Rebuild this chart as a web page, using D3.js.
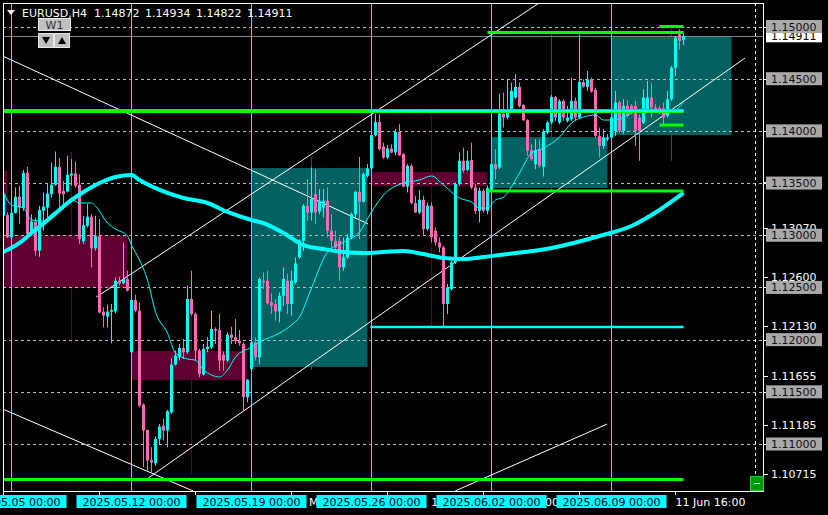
<!DOCTYPE html>
<html><head><meta charset="utf-8">
<script src="https://cdn.jsdelivr.net/npm/d3@7"></script>
<style>html,body{margin:0;padding:0;background:#000;overflow:hidden}svg{display:block}</style>
</head><body>
<svg id="chart" width="828" height="515"></svg>
<script>
// ---------------- DATA ----------------
const symbol = "EURUSD,H4";
const firstBar = -2; // bar index of first candle (bar 0 = 2025.05.05 00:00, H4)
const opens = [1.13187,1.13196,1.12979,1.13215,1.13368,1.13260,1.13598,1.13011,1.13132,1.12852,1.13234,1.13266,1.13394,1.13483,1.13655,1.13426,1.13419,1.13573,1.13592,1.13483,1.12941,1.13091,1.13177,1.12874,1.12992,1.12268,1.12220,1.12268,1.12271,1.12564,1.12539,1.12580,
1.11879,1.12379,1.12277,1.11378,1.11135,1.10848,1.10816,1.11049,1.11177,1.11129,1.11304,1.11761,1.11831,1.11920,1.11879,1.12389,1.12245,1.11895,1.11665,1.11911,1.11926,1.12102,1.12092,1.11856,1.11799,1.12048,1.12022,1.11990,1.11958,1.11448,
1.11719,1.11974,1.11831,1.12564,1.12564,1.12357,1.12341,1.12271,1.12421,1.12564,1.12341,1.12549,1.12788,1.12947,1.13282,1.13218,1.13394,1.13228,1.13266,1.13330,1.13043,1.12947,1.12947,1.12692,1.12788,1.12979,1.13202,1.13416,1.13321,1.13569,
1.13640,1.13959,1.14086,1.13850,1.13745,1.13831,1.13793,1.13990,1.13777,1.13467,1.13665,1.13308,1.13218,1.13340,1.13059,1.13282,1.13043,1.12931,1.12883,1.12341,1.12485,1.12740,1.13490,1.13713,1.13624,1.13719,1.13458,1.13234,1.13426,1.13234,
1.13426,1.13681,1.13649,1.14166,1.14128,1.14191,1.14319,1.14421,1.14249,1.14102,1.13815,1.13681,1.13825,1.13655,1.13984,1.14080,1.14325,1.14080,1.14287,1.14096,1.14112,1.14287,1.14128,1.14469,1.14421,1.14494,1.14392,1.13952,1.13856,1.13920,
1.13936,1.14000,1.14271,1.14000,1.14239,1.14239,1.14239,1.14128,1.14080,1.14207,1.14319,1.14223,1.14217,1.14217,1.14144,1.14303,1.14606,1.14925,1.14872];
const highs = [1.13802,1.13218,1.13234,1.13458,1.13474,1.13624,1.13655,1.13202,1.13171,1.13282,1.13410,1.13490,1.13697,1.13802,1.13738,1.13521,1.13761,1.13729,1.13707,1.13585,1.13187,1.13298,1.13202,1.13187,1.13155,1.12309,1.12335,1.12341,1.12596,1.12603,1.12931,1.12660,
1.12389,1.12431,1.12357,1.11391,1.11135,1.10969,1.11072,1.11193,1.11241,1.11327,1.11824,1.11895,1.11958,1.12006,1.12517,1.12660,1.12261,1.11911,1.11958,1.12022,1.12277,1.12118,1.12245,1.11888,1.12070,1.12124,1.12198,1.12092,1.11974,1.11623,
1.11990,1.12022,1.12596,1.12644,1.12660,1.12443,1.12389,1.12453,1.12692,1.12628,1.12660,1.12788,1.12963,1.13298,1.13537,1.13649,1.13633,1.13442,1.13442,1.13458,1.13202,1.13043,1.12979,1.12979,1.13011,1.13218,1.13426,1.13751,1.13601,1.13681,
1.13968,1.14160,1.14160,1.13888,1.13863,1.13872,1.14016,1.14064,1.13786,1.13681,1.13681,1.13378,1.13435,1.13378,1.13314,1.13314,1.13075,1.12979,1.12899,1.12533,1.12756,1.13506,1.13793,1.13840,1.13809,1.13888,1.13490,1.13458,1.13442,1.13474,
1.13697,1.13825,1.14357,1.14367,1.14494,1.14463,1.14542,1.14463,1.14255,1.14112,1.13872,1.13920,1.13920,1.14016,1.14096,1.14345,1.14335,1.14303,1.14303,1.14239,1.14510,1.14319,1.14925,1.14494,1.14574,1.14510,1.14415,1.14032,1.14016,1.13968,
1.14144,1.14383,1.14287,1.14303,1.14297,1.14255,1.14287,1.14160,1.14399,1.14479,1.14463,1.14255,1.14239,1.14271,1.14383,1.14622,1.14909,1.14973,1.14934];
const lows = [1.13139,1.12973,1.12963,1.13209,1.13107,1.13234,1.13005,1.12995,1.12804,1.12794,1.13043,1.13171,1.13362,1.13474,1.13250,1.13250,1.13410,1.13474,1.13458,1.12915,1.12915,1.13075,1.12692,1.12852,1.12252,1.12118,1.12118,1.11968,1.12252,1.12517,1.12533,1.12462,
1.11869,1.12261,1.11352,1.10778,1.10746,1.10714,1.10794,1.11001,1.11033,1.10969,1.11288,1.11751,1.11799,1.11815,1.11863,1.12230,1.11799,1.11639,1.11655,1.11879,1.11911,1.11958,1.11703,1.11703,1.11783,1.11958,1.11958,1.11942,1.11320,1.11400,
1.11710,1.11799,1.11767,1.12485,1.12335,1.12245,1.12182,1.12166,1.12325,1.12245,1.12230,1.12533,1.12772,1.12852,1.13139,1.13139,1.13107,1.13202,1.13171,1.12979,1.12883,1.12852,1.12564,1.12660,1.12772,1.12963,1.13171,1.12963,1.13314,1.13553,
1.13624,1.13946,1.13809,1.13729,1.13729,1.13786,1.13767,1.13761,1.13458,1.13410,1.13298,1.13212,1.13202,1.12995,1.13043,1.12931,1.12899,1.12836,1.12130,1.12245,1.12469,1.12724,1.13474,1.13601,1.13611,1.13442,1.13202,1.13123,1.13218,1.13202,
1.13410,1.13537,1.13633,1.14032,1.14112,1.14175,1.14303,1.14223,1.14096,1.13761,1.13713,1.13633,1.13649,1.13563,1.13968,1.14064,1.14096,1.14064,1.14096,1.14080,1.14096,1.14096,1.14112,1.14415,1.14383,1.14367,1.13936,1.13745,1.13825,1.13904,
1.13920,1.13952,1.13984,1.13968,1.14128,1.14160,1.13856,1.13713,1.14064,1.14191,1.14128,1.14175,1.14160,1.14064,1.14128,1.14287,1.14526,1.14782,1.14822];
const closes = [1.13394,1.12979,1.13215,1.13368,1.13266,1.13598,1.13011,1.13132,1.12852,1.13241,1.13273,1.13400,1.13483,1.13655,1.13400,1.13394,1.13579,1.13592,1.13474,1.12963,1.13097,1.13177,1.12874,1.12992,1.12261,1.12230,1.12268,1.12284,1.12564,1.12539,1.12580,1.12469,
1.12379,1.12277,1.11368,1.11129,1.10842,1.10823,1.11049,1.11167,1.11129,1.11314,1.11761,1.11847,1.11920,1.11879,1.12389,1.12245,1.11895,1.11671,1.11911,1.11933,1.12102,1.12086,1.11799,1.11799,1.12048,1.12016,1.11984,1.11965,1.11448,1.11614,
1.11974,1.11831,1.12580,1.12549,1.12348,1.12325,1.12271,1.12421,1.12580,1.12341,1.12564,1.12730,1.12947,1.13282,1.13218,1.13346,1.13218,1.13330,1.13330,1.13043,1.12947,1.12883,1.12692,1.12788,1.12979,1.13202,1.13416,1.13321,1.13585,1.13640,
1.13959,1.14086,1.13825,1.13745,1.13831,1.13793,1.13990,1.13767,1.13467,1.13665,1.13308,1.13218,1.13340,1.13059,1.13282,1.12979,1.12931,1.12883,1.12341,1.12501,1.12740,1.13490,1.13713,1.13617,1.13713,1.13458,1.13234,1.13426,1.13234,1.13451,
1.13681,1.13633,1.14166,1.14128,1.14191,1.14383,1.14421,1.14239,1.14102,1.13809,1.13729,1.13815,1.13665,1.13994,1.14080,1.14325,1.14128,1.14287,1.14128,1.14128,1.14287,1.14128,1.14469,1.14424,1.14494,1.14376,1.13952,1.13856,1.13936,1.13936,
1.14128,1.14271,1.14000,1.14239,1.14144,1.14175,1.14000,1.14000,1.14319,1.14319,1.14223,1.14198,1.14175,1.14128,1.14303,1.14606,1.14893,1.14861,1.14911];

// moving averages: [bar, price]
const slowMA = [[-2,1.12839],[2,1.12926],[5,1.13021],[10,1.13175],[14,1.13309],[18,1.13414],[22,1.13501],[26,1.13558],[30,1.13577],[32,1.13529],[39,1.13405],[43,1.13357],[49,1.13309],[54,1.13223],[60,1.13146],[63,1.13117],[68,1.13021],[73,1.12906],[78,1.12868],[83,1.12839],[88,1.12830],[93,1.12839],[98,1.12849],[103,1.12820],[108,1.12782],[113,1.12772],[118,1.12791],[122,1.12811],[135,1.12878],[147,1.12993],[155,1.13089],[162,1.13242],[168,1.13405]];
const fastMA = [[-2,1.13414],[0,1.13290],[3,1.13261],[5,1.13146],[8,1.13136],[10,1.13204],[13,1.13261],[15,1.13338],[17,1.13309],[20,1.13309],[21,1.13280],[24,1.13117],[26,1.13060],[29,1.12993],[30,1.12906],[32,1.12763],[34,1.12571],[36,1.12264],[39,1.12063],[41,1.11871],[44,1.11814],[46,1.11804],[48,1.11709],[50,1.11661],[52,1.11642],[54,1.11709],[56,1.11833],[60,1.11929],[62,1.11977],[67,1.12063],[70,1.12140],[72,1.12217],[75,1.12494],[79,1.12839],[83,1.12935],[87,1.13031],[90,1.13223],[93,1.13386],[98,1.13501],[102,1.13529],[105,1.13568],[108,1.13481],[112,1.13357],[115,1.13318],[117,1.13261],[119,1.13261],[121,1.13338],[123,1.13366],[127,1.13596],[130,1.13788],[133,1.13836],[137,1.13941],[140,1.14075],[143,1.14133],[146,1.14152],[148,1.14104],[151,1.14104],[153,1.14133],[158,1.14200],[162,1.14200],[165,1.14181],[168,1.14277]];

// zones: [fromBar, toBar, topPrice, bottomPrice]
const tealZones = [[60,89,1.13644,1.11738],[120,149,1.13941,1.13453],[150,180,1.14909,1.13960]];
const maroonZones = [[-5,-1,1.13616,1.13213],[-2.05,29,1.13002,1.12495],[30,58.8,1.11891,1.11613],[89.9,119,1.13606,1.13472]];

// horizontal levels: [fromBar, toBar, price]
const greenLevels = [[-2.2,168,1.14190],[119,168,1.14943],[162,168,1.15000],[162,168,1.14056],[119,168,1.13424],[-2.2,168,1.10660]];
const cyanLevels = [[89.7,168,1.14190],[89.7,168,1.12120]];

// trend lines: [bar1, price1, bar2, price2]
const trendLines = [[-2.2,1.14717,89.2,1.13108],[21.2,1.12408,131.9,1.15225],[34.2,1.10674,183.4,1.14698],[-2.2,1.11335,45.4,1.10550],[110.9,1.10550,148.9,1.11191]];

// weeks
const weekStartBars = [0,30,60,90,120,150];
const weekLabels = ["2025.05.05 00:00","2025.05.12 00:00","2025.05.19 00:00","2025.05.26 00:00","2025.06.02 00:00","2025.06.09 00:00"];
const weekMidBars = [15,45,75,105,135,165];
const weekMidKinds = ["maroon","maroon","teal","maroon","teal","teal"];

// time axis ticks (mostly hidden behind the week labels)
const tickBars = [22,46,70,94,118,142,166];
const tickLabels = ["8 May 16:00","14 May 16:00","20 May 16:00","26 May 16:00","30 May 16:00","5 Jun 16:00","11 Jun 16:00"];
const tickMarkBars = [-2,22,46,70,94,118,142,166];

// price axis
const gridLevels = [1.15,1.145,1.14,1.135,1.13,1.125,1.12,1.115,1.11];
const extraLevels = [1.1351,1.1307,1.126,1.1213,1.11655,1.11185,1.10715];

// ---------------- DRAW ----------------
const C = {bull:"#00ffff", bear:"#ff69b4", teal:"#016060", maroon:"#5f0031", green:"#00ff00", cyan:"#00ffff", grid:"#b8b8b8", white:"#ffffff"};
const FONT = "DejaVu Sans, Verdana, sans-serif";
const L = 3, R = 764, T = 3, B = 491;
const LABEL_W = 110;

const x = d3.scaleLinear().domain([0,1]).range([11.5,15.5]);
const y = d3.scaleLinear().domain([1.15,1.11]).range([26.5,444]);

const svg = d3.select("#chart");
svg.append("rect").attr("width",828).attr("height",515).attr("fill","#000");
svg.append("defs").append("clipPath").attr("id","plot").append("rect")
  .attr("x",L).attr("y",T).attr("width",R-L).attr("height",B-T);
const g = svg.append("g").attr("clip-path","url(#plot)");

const candles = opens.map((o,k)=>({bar:firstBar+k,o,h:highs[k],l:lows[k],c:closes[k]}));

// week middle lines (weekly high-low), behind zones
weekMidBars.forEach((mb,w)=>{
  const wk = candles.filter(d=>d.bar>=weekStartBars[w] && d.bar<weekStartBars[w]+30);
  const hi = d3.max(wk,d=>d.h), lo = d3.min(wk,d=>d.l);
  g.append("line").attr("x1",x(mb)).attr("x2",x(mb)).attr("y1",y(hi)).attr("y2",y(lo))
    .attr("stroke",C[weekMidKinds[w]]).attr("stroke-width",1);
});

// zones
[[tealZones,C.teal],[maroonZones,C.maroon]].forEach(([zs,col])=>{
  g.selectAll(null).data(zs).enter().append("rect")
    .attr("x",d=>x(d[0])).attr("width",d=>x(d[1])-x(d[0]))
    .attr("y",d=>y(d[2])).attr("height",d=>y(d[3])-y(d[2]))
    .attr("fill",col);
});

// dashed price grid
g.selectAll(null).data(gridLevels).enter().append("line")
  .attr("x1",L).attr("x2",R).attr("y1",d=>Math.round(y(d))+0.5).attr("y2",d=>Math.round(y(d))+0.5)
  .attr("stroke",C.grid).attr("stroke-dasharray","3,3");

// bid line
const last = candles[candles.length-1];
g.append("line").attr("x1",L).attr("x2",R).attr("y1",Math.round(y(last.c))+0.5).attr("y2",Math.round(y(last.c))+0.5)
  .attr("stroke","#7b8894");

// week separators
g.selectAll(null).data(weekStartBars).enter().append("line")
  .attr("x1",d=>x(d)).attr("x2",d=>x(d)).attr("y1",T).attr("y2",B)
  .attr("stroke",C.cyan).attr("stroke-width",1);

// shift marker
g.append("line").attr("x1",755.5).attr("x2",755.5).attr("y1",T).attr("y2",B)
  .attr("stroke","#fff").attr("stroke-dasharray","3,3");

// trend lines
g.selectAll(null).data(trendLines).enter().append("line")
  .attr("x1",d=>x(d[0])).attr("y1",d=>y(d[1])).attr("x2",d=>x(d[2])).attr("y2",d=>y(d[3]))
  .attr("stroke","#fff").attr("stroke-width",1);

// candles
const cg = g.append("g");
cg.selectAll(null).data(candles).enter().append("line")
  .attr("x1",d=>x(d.bar)).attr("x2",d=>x(d.bar)).attr("y1",d=>y(d.h)).attr("y2",d=>y(d.l))
  .attr("stroke",d=>d.c>=d.o?C.bull:C.bear).attr("stroke-width",1);
cg.selectAll(null).data(candles).enter().append("rect")
  .attr("x",d=>x(d.bar)-1.5).attr("width",3)
  .attr("y",d=>y(Math.max(d.o,d.c))).attr("height",d=>Math.max(1,Math.abs(y(d.o)-y(d.c))))
  .attr("fill",d=>d.c>=d.o?C.bull:C.bear);

// moving averages
const line = d3.line().x(d=>x(d[0])).y(d=>y(d[1])).curve(d3.curveMonotoneX);
g.append("path").attr("d",line(slowMA)).attr("fill","none").attr("stroke",C.cyan).attr("stroke-width",4);
g.append("path").attr("d",line(fastMA)).attr("fill","none").attr("stroke",C.cyan).attr("stroke-width",1);

// horizontal levels
g.selectAll(null).data(greenLevels).enter().append("line")
  .attr("x1",d=>x(d[0])).attr("x2",d=>x(d[1])).attr("y1",d=>y(d[2])).attr("y2",d=>y(d[2]))
  .attr("stroke",C.green).attr("stroke-width",(d,i)=>i===0?4:3);
g.selectAll(null).data(cyanLevels).enter().append("line")
  .attr("x1",d=>x(d[0])).attr("x2",d=>x(d[1])).attr("y1",d=>y(d[2])).attr("y2",d=>y(d[2]))
  .attr("stroke",C.cyan).attr("stroke-width",(d,i)=>i===0?2:2.5);

// frame
svg.append("rect").attr("x",L+0.5).attr("y",T+0.5).attr("width",R-L-1).attr("height",B-T)
  .attr("fill","none").attr("stroke","#fff");

// ---- right price axis ----
const pa = svg.append("g").attr("font-family",FONT).attr("font-size",11);
extraLevels.forEach(p=>{
  const yy = y(p);
  pa.append("line").attr("x1",R).attr("x2",R+4).attr("y1",Math.round(yy)+0.5).attr("y2",Math.round(yy)+0.5).attr("stroke","#fff");
  pa.append("text").attr("x",771).attr("y",yy+4).attr("fill","#fff").text(p.toFixed(5));
});
pa.append("rect").attr("x",766).attr("y",y(last.c)-6.5).attr("width",56).attr("height",13).attr("fill","#fff");
pa.append("text").attr("x",771).attr("y",y(last.c)+4).attr("fill","#000").text(last.c.toFixed(5));
gridLevels.forEach(p=>{
  const yy = y(p);
  pa.append("line").attr("x1",R).attr("x2",R+4).attr("y1",Math.round(yy)+0.5).attr("y2",Math.round(yy)+0.5).attr("stroke","#fff");
  pa.append("rect").attr("x",766).attr("y",yy-6.5).attr("width",56).attr("height",13).attr("fill","#a9a9a9");
  pa.append("text").attr("x",771).attr("y",yy+4).attr("fill","#111").text(p.toFixed(5));
});

// ---- time axis ----
const ta = svg.append("g").attr("font-family",FONT).attr("font-size",11);
tickMarkBars.forEach(b=>{
  const xx = Math.round(x(b)-0.5)+0.5;
  ta.append("line").attr("x1",xx).attr("x2",xx).attr("y1",B).attr("y2",B+4).attr("stroke","#fff");
});
// tick labels: only the characters not covered by a week label box are drawn
const boxes = weekStartBars.map(b=>[x(b)-LABEL_W/2, x(b)+LABEL_W/2]);
tickBars.forEach((b,i)=>{
  const xx = Math.round(x(b)-0.5)+0.5;
  const tmp = ta.append("text").attr("x",xx).attr("y",506).text(tickLabels[i]);
  const node = tmp.node(), s = tickLabels[i];
  const runs = []; let cur = null;
  for (let j=0;j<s.length;j++){
    const e = node.getExtentOfChar(j), cx = e.x + e.width/2;
    const vis = !boxes.some(([a,z])=>cx>a && cx<z);
    if (vis){ if(!cur){cur={x:e.x,t:""};runs.push(cur);} cur.t+=s[j]; } else cur=null;
  }
  tmp.remove();
  runs.filter(r=>r.t.trim()).forEach(r=>{
    ta.append("text").attr("x",r.x).attr("y",506).attr("fill","#fff").attr("xml:space","preserve").text(r.t);
  });
});
weekStartBars.forEach((b,i)=>{
  const xx = x(b);
  ta.append("rect").attr("x",xx-LABEL_W/2).attr("y",495).attr("width",LABEL_W).attr("height",13).attr("fill",C.cyan);
  ta.append("text").attr("x",xx).attr("y",506).attr("text-anchor","middle").attr("fill","#000020").text(weekLabels[i]);
});

// green corner box
svg.append("rect").attr("x",750.5).attr("y",476.5).attr("width",13).attr("height",14).attr("fill","#009a00").attr("stroke","#22cc22");
svg.append("line").attr("x1",754).attr("x2",760).attr("y1",483.5).attr("y2",483.5).attr("stroke","#fff");

// ---- header ----
const hd = svg.append("g").attr("font-family",FONT).attr("font-size",11).attr("fill","#fff");
hd.append("path").attr("d","M7,10 L15,10 L11,15 Z").attr("fill","#fff");
hd.append("text").attr("x",22).attr("y",17).text(symbol);
hd.append("text").attr("x",94).attr("y",17).attr("word-spacing",2)
  .text([last.o,last.h,last.l,last.c].map(v=>v.toFixed(5)).join(" "));

// W1 button group
const btn = svg.append("g").attr("font-family",FONT).attr("font-size",11);
btn.append("rect").attr("x",38.5).attr("y",18.5).attr("width",32).attr("height",12).attr("fill","#c0c0c0").attr("stroke","#e8e8e8");
btn.append("text").attr("x",54.5).attr("y",28.5).attr("text-anchor","middle").attr("fill","#303030").text("W1");
[[38.5,"M42,37 L50,37 L46,44 Z"],[54.5,"M58,44 L66,44 L62,37 Z"]].forEach(([bx,p])=>{
  btn.append("rect").attr("x",bx).attr("y",33.5).attr("width",15).attr("height",14).attr("fill","#c0c0c0").attr("stroke","#e8e8e8");
  btn.append("path").attr("d",p).attr("fill","#000");
});
</script>
</body></html>
